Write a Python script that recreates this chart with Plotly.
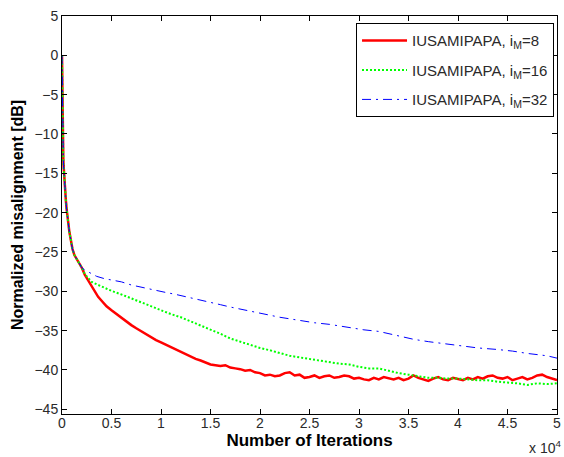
import plotly.graph_objects as go

# Normalized misalignment (dB) versus iteration count for three values of i_M

it_8 = [0, 20, 40, 60, 80, 100, 130, 160, 200, 250, 300, 350, 400, 470, 550, 650, 750, 900,
        1050, 1250, 1500, 1750, 2000, 2300, 2650, 3000, 3300, 3650, 4000, 4500, 5000, 5500,
        6000, 6500, 7000, 7500, 8000, 8500, 9000, 9500, 10000, 10500, 11000, 11500, 12000,
        12500, 13000, 13500, 14000, 14500, 15000, 15500, 16000, 16500, 17000, 17500, 18000,
        18500, 19000, 19500, 20000, 20500, 21000, 21500, 22000, 22500, 23000, 23500, 24000,
        24500, 25000, 25500, 26000, 26500, 27000, 27500, 28000, 28500, 29000, 29500, 30000,
        30500, 31000, 31500, 32000, 32500, 33000, 33500, 34000, 34500, 35000, 35500, 36000,
        36500, 37000, 37500, 38000, 38500, 39000, 39500, 40000, 40500, 41000, 41500, 42000,
        42500, 43000, 43500, 44000, 44500, 45000, 45500, 46000, 46500, 47000, 47500, 48000,
        48500, 49000, 49500, 50000]
nm_8 = [0, -4.5, -7.5, -9.5, -10.8, -11.8, -13.0, -14.0, -15.0, -16.0, -16.8, -17.8, -18.6,
        -19.6, -20.6, -21.6, -22.5, -23.5, -24.6, -25.4, -25.9, -26.5, -27.0, -27.9, -28.6,
        -29.4, -30.0, -30.7, -31.2, -31.9, -32.4, -32.9, -33.4, -33.8, -34.3, -34.7, -35.1,
        -35.5, -35.9, -36.2, -36.5, -36.8, -37.2, -37.5, -37.8, -38.1, -38.3, -38.6, -38.8,
        -39.1, -39.3, -39.4, -39.5, -39.4, -39.7, -39.8, -39.9, -40.1, -40.0, -40.3, -40.4,
        -40.7, -40.6, -40.8, -40.7, -40.4, -40.3, -40.7, -40.6, -41.0, -40.9, -40.7, -41.0,
        -40.8, -40.7, -41.0, -40.9, -40.7, -40.8, -41.1, -41.0, -41.2, -41.3, -41.0, -41.2,
        -40.9, -41.1, -41.2, -41.0, -41.3, -41.1, -40.7, -41.0, -41.2, -41.4, -41.1, -40.9,
        -41.2, -41.3, -41.0, -41.2, -41.3, -41.0, -41.2, -40.9, -41.1, -40.8, -40.7, -41.0,
        -41.1, -40.9, -41.3, -41.1, -40.9, -41.2, -41.0, -40.7, -40.6, -40.9, -41.1, -41.3]

it_16 = [0, 20, 40, 60, 80, 100, 130, 160, 200, 250, 300, 350, 400, 470, 550, 650, 750, 900,
         1050, 1250, 1500, 1750, 2000, 2300, 2650, 3000, 3500, 4000, 4500, 5000, 6000, 7000,
         8000, 9000, 10000, 11000, 12000, 13000, 14000, 15000, 16000, 17000, 18000, 19000,
         20000, 21000, 22000, 23000, 24000, 25000, 26000, 27000, 28000, 29000, 30000, 31000,
         32000, 33000, 34000, 35000, 36000, 37000, 38000, 39000, 40000, 41000, 42000, 43000,
         44000, 45000, 46000, 47000, 48000, 49000, 50000]
nm_16 = [0, -4.5, -7.5, -9.5, -10.8, -11.8, -13.0, -14.0, -15.0, -16.0, -16.8, -17.8, -18.6,
         -19.6, -20.6, -21.6, -22.5, -23.5, -24.6, -25.4, -25.9, -26.5, -27.0, -27.8, -28.3,
         -28.8, -29.1, -29.4, -29.7, -29.95, -30.4, -30.9, -31.4, -31.9, -32.4, -32.9, -33.3,
         -33.8, -34.4, -34.8, -35.4, -36.0, -36.4, -36.8, -37.2, -37.5, -37.9, -38.2, -38.4,
         -38.6, -38.8, -39.0, -39.2, -39.3, -39.6, -39.8, -39.8, -40.1, -40.4, -40.6, -40.8,
         -41.0, -41.0, -41.1, -41.1, -41.2, -41.3, -41.3, -41.5, -41.6, -41.7, -41.9, -41.7,
         -41.8, -41.7]

it_32 = [0, 20, 40, 60, 80, 100, 130, 160, 200, 250, 300, 350, 400, 470, 550, 650, 750, 900,
         1050, 1250, 1500, 1750, 2000, 2300, 2650, 3000, 3500, 4300, 5000, 6000, 7000, 8000,
         9000, 10300, 11500, 12600, 13800, 15000, 16000, 17000, 18500, 20500, 22000, 24000,
         25500, 27000, 29000, 30500, 32000, 33500, 35500, 37000, 39000, 41000, 42000, 44000,
         45500, 47000, 49000, 50000]
nm_32 = [0, -4.5, -7.5, -9.5, -10.8, -11.8, -13.0, -14.0, -15.0, -16.0, -16.8, -17.8, -18.6,
         -19.6, -20.6, -21.6, -22.5, -23.5, -24.6, -25.4, -25.9, -26.5, -27.0, -27.3, -27.55,
         -27.8, -28.1, -28.4, -28.6, -28.8, -29.2, -29.5, -29.8, -30.1, -30.4, -30.7, -31.1,
         -31.4, -31.7, -32.0, -32.4, -32.9, -33.3, -33.7, -34.0, -34.2, -34.65, -34.9, -35.1,
         -35.5, -36.1, -36.4, -36.7, -37.0, -37.2, -37.4, -37.6, -37.9, -38.2, -38.5]

x_tickvals = [0, 5000, 10000, 15000, 20000, 25000, 30000, 35000, 40000, 45000, 50000]
x_ticktext = ["0", "0.5", "1", "1.5", "2", "2.5", "3", "3.5", "4", "4.5", "5"]
y_tickvals = [5, 0, -5, -10, -15, -20, -25, -30, -35, -40, -45]

FONT = "Liberation Sans, Arial, sans-serif"
TICK_COLOR = "#2a2a2a"

fig = go.Figure()
fig.add_trace(go.Scatter(x=it_8, y=nm_8, mode="lines", name="IUSAMIPAPA, i<sub>M</sub>=8",
                         legendgroup="m8",
                         line=dict(color="#ff0000", width=2.5)))
fig.add_trace(go.Scatter(x=it_16, y=nm_16, mode="lines", name="IUSAMIPAPA, i<sub>M</sub>=16",
                         legendgroup="m16",
                         line=dict(color="#00ff00", width=2, dash="2px,2px")))
fig.add_trace(go.Scatter(x=it_32, y=nm_32, mode="lines", name="IUSAMIPAPA, i<sub>M</sub>=32",
                         legendgroup="m32",
                         line=dict(color="#0000ff", width=1, dash="9px,5px,2px,5px")))

axis_common = dict(showline=True, linecolor="black", linewidth=1, mirror="ticks",
                   ticks="inside", ticklen=5, tickcolor="black", showgrid=False,
                   zeroline=False, tickfont=dict(family=FONT, size=14, color=TICK_COLOR))

fig.update_layout(
    width=564, height=457,
    margin=dict(l=62, r=3, t=16, b=43),
    paper_bgcolor="white", plot_bgcolor="white",
    font=dict(family=FONT, color="black"),
    xaxis=dict(range=[0, 50000], tickvals=x_tickvals, ticktext=x_ticktext,
               ticklabeloverflow="allow", ticklabelstandoff=-4,
               title=dict(text="<b>Number of Iterations</b>", font=dict(size=17), standoff=2),
               **axis_common),
    yaxis=dict(range=[-45.6, 5], tickvals=y_tickvals,
               title=dict(text="<b>Normalized misalignment [dB]</b>", font=dict(size=16), standoff=6),
               **axis_common),
    legend=dict(x=0.994, y=0.982, xanchor="right", yanchor="top",
                bordercolor="black", borderwidth=1, bgcolor="white",
                itemwidth=45, traceorder="grouped", tracegroupgap=7,
                font=dict(family=FONT, size=15, color=TICK_COLOR)),
    showlegend=True,
)

fig.add_annotation(text="x 10<sup>4</sup>", xref="paper", yref="paper", x=1.012, y=-0.083,
                   xanchor="right", yanchor="middle", showarrow=False,
                   font=dict(family=FONT, size=14, color=TICK_COLOR))

fig.write_html("out.html")
